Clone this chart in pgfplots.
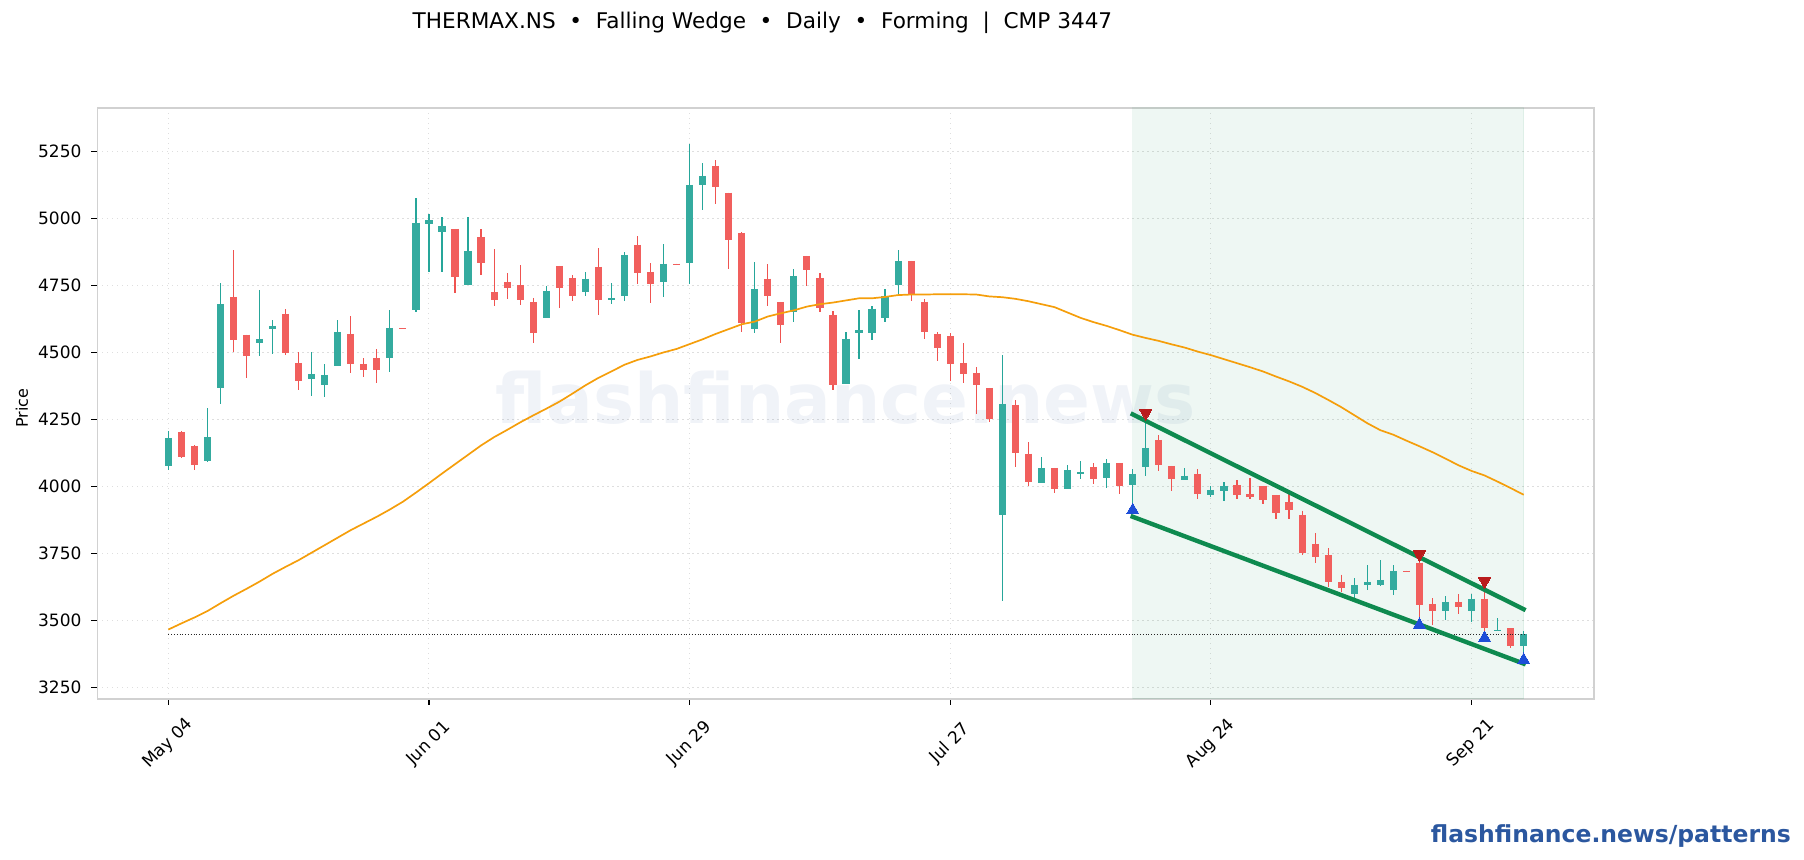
\documentclass[border=0pt]{standalone}
\usepackage{pgfplots}
\usepackage{pgfplotstable}
\usepackage{fontspec}
\setmainfont{DejaVu Sans}
\pgfplotsset{compat=1.18}
\definecolor{cgreen}{HTML}{26A69A}
\definecolor{cred}{HTML}{EF5350}
\definecolor{bgreen}{HTML}{34AB9F}
\definecolor{bred}{HTML}{F15F5D}
\definecolor{wedge}{HTML}{0E8A4F}
\definecolor{maor}{HTML}{F59E0B}
\definecolor{mkblue}{HTML}{1D4ED8}
\definecolor{mkred}{HTML}{B91C1C}
\definecolor{brand}{HTML}{2B579F}
\pgfplotstableread{
x top bot high low
0 4180 4075 4205 4060
3 4183 4095 4291 4090
4 4680 4368 4757 4306
7 4550 4536 4731 4485
8 4598 4587 4619 4492
11 4419 4398 4500 4336
12 4415 4379 4455 4332
13 4576 4450 4619 4450
17 4591 4480 4657 4425
19 4983 4659 5075 4649
20 4994 4980 5014 4798
21 4971 4947 5004 4798
23 4878 4752 5004 4752
29 4729 4626 4747 4626
32 4774 4723 4798 4709
34 4703 4695 4757 4679
35 4863 4711 4873 4690
38 4830 4760 4903 4705
40 5124 4831 5276 4754
41 5158 5122 5205 5030
45 4736 4588 4836 4571
48 4785 4648 4810 4612
52 4550 4383 4575 4383
53 4583 4573 4657 4474
54 4662 4573 4672 4545
55 4709 4629 4735 4612
56 4841 4749 4881 4711
64 4307 3894 4489 3571
67 4068 4010 4108 4010
69 4061 3991 4078 3991
70 4053 4046 4093 4026
72 4087 4032 4101 3993
74 4046 4006 4063 3905
75 4143 4073 4267 4037
78 4039 4024 4067 4024
80 3986 3968 3999 3959
81 4001 3983 4015 3944
91 3632 3596 3657 3582
92 3643 3632 3705 3614
93 3650 3632 3724 3626
94 3684 3611 3705 3593
98 3568 3536 3590 3500
100 3580 3536 3597 3493
102 3464 3458 3507 3458
104 3449 3402 3459 3353
}\greentable
\pgfplotstableread{
x top bot high low
1 4203 4110 4205 4105
2 4150 4080 4152 4060
5 4706 4544 4881 4500
6 4565 4484 4565 4403
9 4643 4497 4660 4489
10 4460 4394 4500 4358
14 4568 4454 4634 4422
15 4456 4435 4478 4407
16 4479 4435 4511 4384
18 4590 4586 4590 4586
22 4960 4782 4960 4720
24 4930 4831 4959 4787
25 4725 4696 4884 4672
26 4762 4738 4795 4698
27 4751 4696 4825 4675
28 4688 4570 4703 4534
30 4822 4741 4822 4664
31 4777 4711 4787 4690
33 4818 4696 4888 4638
36 4900 4797 4933 4754
37 4800 4756 4832 4683
39 4830 4826 4830 4826
42 5195 5118 5216 5052
43 5095 4917 5095 4810
44 4945 4607 4947 4575
46 4774 4708 4828 4672
47 4688 4603 4688 4534
49 4859 4808 4859 4746
50 4777 4663 4795 4649
51 4639 4379 4652 4358
57 4841 4718 4841 4690
58 4688 4577 4698 4548
59 4568 4514 4575 4466
60 4561 4454 4571 4394
61 4460 4417 4534 4384
62 4423 4379 4443 4270
63 4367 4252 4367 4239
65 4303 4122 4321 4071
66 4121 4014 4164 3999
68 4068 3991 4068 3976
71 4072 4025 4086 4007
73 4087 4002 4087 3969
76 4173 4080 4190 4056
77 4076 4025 4076 3981
79 4046 3969 4063 3954
82 4005 3968 4022 3954
83 3971 3960 4030 3954
84 4001 3947 4001 3935
85 3968 3900 3968 3877
86 3942 3912 3974 3877
87 3893 3751 3909 3743
88 3785 3734 3825 3713
89 3744 3641 3769 3623
90 3643 3621 3670 3607
95 3685 3681 3685 3681
96 3715 3557 3740 3484
97 3560 3536 3581 3481
99 3568 3551 3597 3522
101 3580 3469 3640 3435
103 3469 3404 3469 3398
}\redtable
\pgfplotstableread{
x y
0 3465
1 3488
2 3510
3 3534
4 3563
5 3591
6 3617
7 3644
8 3673
9 3699
10 3724
11 3752
12 3780
13 3808
14 3836
15 3861
16 3886
17 3913
18 3942
19 3976
20 4011
21 4047
22 4082
23 4117
24 4152
25 4183
26 4210
27 4238
28 4264
29 4289
30 4315
31 4345
32 4376
33 4404
34 4428
35 4453
36 4471
37 4484
38 4499
39 4512
40 4530
41 4548
42 4568
43 4586
44 4604
45 4614
46 4633
47 4645
48 4656
49 4670
50 4679
51 4685
52 4693
53 4701
54 4701
55 4706
56 4713
57 4715
58 4715
59 4716
60 4716
61 4716
62 4715
63 4708
64 4705
65 4699
66 4690
67 4679
68 4668
69 4648
70 4628
71 4612
72 4598
73 4582
74 4565
75 4553
76 4542
77 4529
78 4517
79 4502
80 4489
81 4474
82 4459
83 4444
84 4428
85 4409
86 4391
87 4371
88 4348
89 4322
90 4295
91 4265
92 4235
93 4209
94 4192
95 4170
96 4149
97 4127
98 4103
99 4078
100 4057
101 4040
102 4017
103 3993
104 3968
}\matable
\begin{document}
\begin{tikzpicture}
\path[use as bounding box] (0,0) rectangle (902pt,430pt);
\begin{axis}[
  at={(48.65pt,80.5pt)}, anchor=south west,
  scale only axis, width=748.35pt, height=295.5pt,
  xmin=-5.45, xmax=109.4, ymin=3206, ymax=5411,
  xtick={0,20,40,60,80,100},
  xticklabels={May 04,Jun 01,Jun 29,Jul 27,Aug 24,Sep 21},
  ytick={3250,3500,3750,4000,4250,4500,4750,5000,5250},
  /pgf/number format/assume math mode=true,
  /pgf/number format/1000 sep={},
  tick align=outside, tick pos=left,
  major tick length=3pt,
  tick style={black, line width=0.55pt},
  axis line style={draw=black!18, line width=0.75pt},
  grid=major,
  major grid style={draw=black!13, line width=0.5pt, dash pattern=on 0.6pt off 1.9pt},
  tick label style={font=\fontsize{8.5}{10}\selectfont, black},
  yticklabel style={xshift=-1.4pt},
  xticklabel style={anchor=center, yshift=-19.3pt, rotate=45},
  every axis title shift=0pt,
  title={THERMAX.NS\ \ •\ \ Falling Wedge\ \ •\ \ Daily\ \ •\ \ Forming\ \ |\ \ CMP 3447},
  title style={at={(axis description cs:0.4444,1.1445)}, anchor=center, font=\fontsize{10.8}{12}\selectfont},
  ylabel={Price},
  every axis y label/.style={at={(axis description cs:-0.0504,0.4925)}, rotate=90, anchor=center, font=\fontsize{8}{10}\selectfont},
]
% watermark
\node[font=\fontsize{34.6}{38}\selectfont\bfseries, text=brand, text opacity=0.07, anchor=center] at (rel axis cs:0.5,0.51) {flashfinance.news};
% pattern region
\addplot[fill=wedge, fill opacity=0.07, draw=wedge, draw opacity=0.07, line width=0.5pt, forget plot] coordinates {(74,3206)(104,3206)(104,5411)(74,5411)} -- cycle;
% wicks
\addplot[draw=none, mark=none, forget plot, error bars/.cd, y dir=minus, y explicit, error mark=none, error bar style={draw=cgreen, line width=0.6pt}]
  table[x=x, y=high, y error minus expr=\thisrow{high}-\thisrow{low}] {\greentable};
\addplot[draw=none, mark=none, forget plot, error bars/.cd, y dir=minus, y explicit, error mark=none, error bar style={draw=cred, line width=0.6pt}]
  table[x=x, y=high, y error minus expr=\thisrow{high}-\thisrow{low}] {\redtable};
% bodies
\addplot[draw=none, mark=none, forget plot, error bars/.cd, y dir=minus, y explicit, error mark=none, error bar style={draw=bgreen, line width=3.6pt, line cap=butt}]
  table[x=x, y=top, y error minus expr=\thisrow{top}-\thisrow{bot}] {\greentable};
\addplot[draw=none, mark=none, forget plot, error bars/.cd, y dir=minus, y explicit, error mark=none, error bar style={draw=bred, line width=3.6pt, line cap=butt}]
  table[x=x, y=top, y error minus expr=\thisrow{top}-\thisrow{bot}] {\redtable};
% moving average
\addplot[maor, line width=0.85pt, no markers, forget plot] table[x=x,y=y] {\matable};
% CMP
\addplot[black!85, line width=0.6pt, dash pattern=on 0.5pt off 0.9pt, no markers, forget plot] coordinates {(0,3447)(104,3447)};
% swing markers
\addplot[only marks, mark=triangle*, mark size=3.6pt, mark options={fill=mkblue, draw=mkblue, line width=0pt, yshift=-0.3pt}, forget plot] coordinates {(74,3912)(96,3484)(101,3435)(104,3353)};
\addplot[only marks, mark=triangle*, mark size=3.6pt, mark options={fill=mkred, draw=mkred, line width=0pt, rotate=180, yshift=-0.9pt}, forget plot] coordinates {(75,4267)(96,3740)(101,3640)};
% wedge lines
\addplot[wedge, line width=2.2pt, line cap=rect, no markers, forget plot] coordinates {(74,4268)(104,3541)};
\addplot[wedge, line width=2.2pt, line cap=rect, no markers, forget plot] coordinates {(74,3886)(104,3338)};
\end{axis}
\node[anchor=base east, inner sep=0pt, font=\fontsize{11.75}{13}\selectfont\bfseries, text=brand] at (895.6pt,8.65pt) {flashfinance.news/patterns};
\end{tikzpicture}
\end{document}
